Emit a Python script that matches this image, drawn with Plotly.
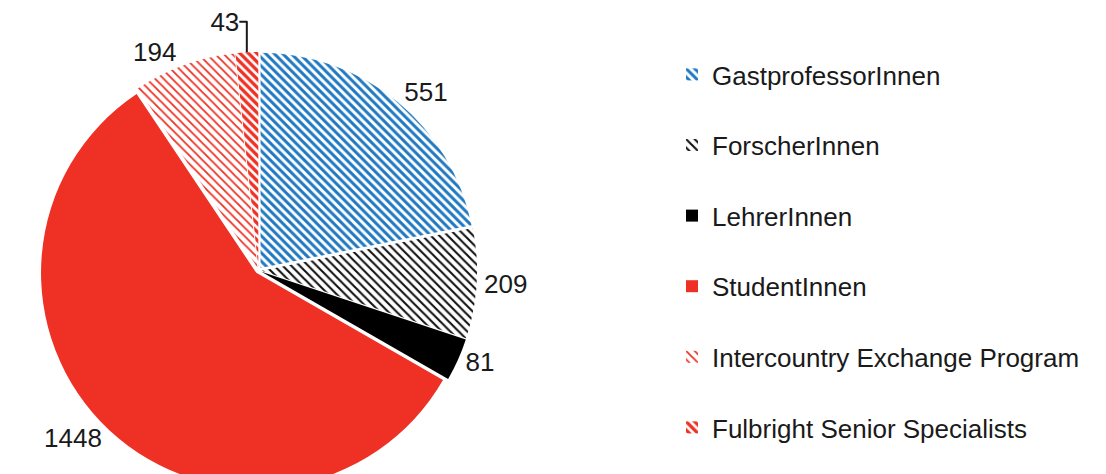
import plotly.graph_objects as go

labels = ["GastprofessorInnen", "ForscherInnen", "LehrerInnen", "StudentInnen",
          "Intercountry Exchange Program", "Fulbright Senior Specialists"]
values = [551, 209, 81, 1448, 194, 43]

colors = ["#1f78c1", "#111111", "#000000", "#ee3124", "#ee3124", "#ee3124"]
shapes = ["\\", "\\", "", "", "\\", "\\"]
solid = [0.5, 0.35, 0.3, 0.3, 0.3, 0.55]

W, H = 1106, 490
# page has an 8px body margin, so positions are shifted by that
fig = go.Figure(go.Pie(
    labels=[lab + "<br> " for lab in labels],
    values=values,
    sort=False,
    direction="clockwise",
    rotation=0,
    pull=0.015,
    textinfo="value",
    textposition="outside",
    textfont=dict(size=26, color="#1a1a1a"),
    marker=dict(
        colors=colors,
        line=dict(width=0),
        pattern=dict(shape=shapes, fgcolor=colors, bgcolor="white",
                     size=6, solidity=solid, fillmode="replace"),
    ),
    domain=dict(x=[32 / W, 469 / W], y=[1 - 481 / H, 1 - 44 / H]),
    hoverinfo="value",
))

fig.update_layout(
    width=W, height=H,
    margin=dict(l=0, r=0, t=0, b=0, autoexpand=False),
    paper_bgcolor="white",
    font=dict(family="Liberation Sans", size=26, color="#1a1a1a"),
    legend=dict(x=664 / W, y=1 - 43 / H, xanchor="left", yanchor="top",
                valign="top",
                font=dict(size=26, color="#1a1a1a")),
)

fig.write_html("out.html")
